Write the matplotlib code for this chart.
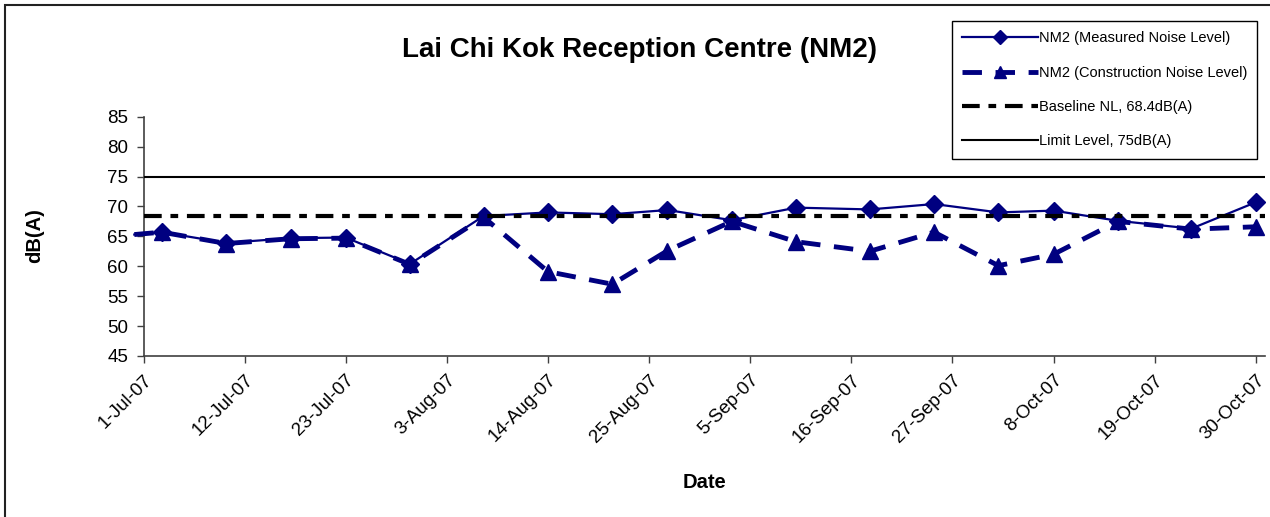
import matplotlib
matplotlib.use("Agg")
import matplotlib.pyplot as plt
import matplotlib.patches as patches
import pandas as pd

plt.rcParams['font.family'] = ['Liberation Sans', 'DejaVu Sans']

# Monitoring dates (first point lies just before the axis start)
dates = ['2007-06-30', '2007-07-03', '2007-07-10', '2007-07-17', '2007-07-23',
         '2007-07-30', '2007-08-07', '2007-08-14', '2007-08-21', '2007-08-27',
         '2007-09-03', '2007-09-10', '2007-09-18', '2007-09-25', '2007-10-02',
         '2007-10-08', '2007-10-15', '2007-10-23', '2007-10-30']

measured = [65.3, 65.7, 63.9, 64.7, 64.8, 60.4, 68.4, 69.0, 68.7, 69.4,
            67.7, 69.8, 69.5, 70.4, 69.0, 69.3, 67.6, 66.3, 70.7]
construction = [65.3, 65.7, 63.8, 64.6, 64.7, 60.3, 68.2, 59.1, 57.0, 62.6,
                67.5, 64.1, 62.5, 65.7, 60.1, 62.0, 67.5, 66.2, 66.6]

baseline = 68.4
limit = 75

x_start = '2007-07-01'
x_end = '2007-10-31'
tick_dates = pd.date_range(x_start, periods=12, freq='11D')
tick_labels = [f"{d.day}-{d.strftime('%b-%y')}" for d in tick_dates]
y_ticks = [45, 50, 55, 60, 65, 70, 75, 80, 85]

navy = '#000080'
x = pd.to_datetime(dates)
x0, x1 = pd.Timestamp(x_start), pd.Timestamp(x_end)

fig = plt.figure(figsize=(12.7, 5.17), dpi=100)
ax = fig.add_axes([143.5 / 1270, 1 - 356 / 517, (1265 - 143.5) / 1270, (356 - 116.7) / 517])

# series
ax.plot(x, measured, color=navy, lw=1.6, marker='D', ms=9, mfc=navy, mec=navy,
        markevery=slice(1, None), clip_on=False, zorder=3,
        label='NM2 (Measured Noise Level)')
ax.plot(x, construction, color=navy, lw=3.5, dashes=(4, 2.8), marker='^', ms=11,
        mfc=navy, mec=navy, markevery=slice(1, None), clip_on=False, zorder=4,
        label='NM2 (Construction Noise Level)')
ax.plot([x0, x1], [baseline, baseline], color='black', lw=3,
        dashes=(4.25, 2.1, 1.85, 2.1), zorder=5, label='Baseline NL, 68.4dB(A)')
ax.plot([x0, x1], [limit, limit], color='black', lw=1.5, zorder=5,
        label='Limit Level, 75dB(A)')

ax.set_xlim(x0, x1)
ax.set_ylim(45, 85)
ax.set_yticks(y_ticks)
ax.set_xticks(tick_dates)
ax.set_xticklabels(tick_labels, rotation=45, ha='right', va='top',
                   rotation_mode='anchor', fontsize=13.5)
ax.tick_params(axis='y', labelsize=13.5, length=5, width=1, color='#404040', pad=6)
ax.tick_params(axis='x', length=5, width=1, color='#404040', pad=6)

for s in ['top', 'right']:
    ax.spines[s].set_visible(False)
for s in ['left', 'bottom']:
    ax.spines[s].set_color('#404040')
    ax.spines[s].set_linewidth(1.2)

fig.text(640 / 1270, 1 - 50 / 517, 'Lai Chi Kok Reception Centre (NM2)',
         fontsize=20, fontweight='bold', ha='center', va='center')
fig.text(35 / 1270, 1 - 236 / 517, 'dB(A)', fontsize=14.5, fontweight='bold',
         rotation=90, ha='center', va='center')
fig.text(704 / 1270, 1 - 482 / 517, 'Date', fontsize=14.5, fontweight='bold',
         ha='center', va='center')

leg = ax.legend(loc='upper left', bbox_to_anchor=(952 / 1270, 1 - 21 / 517),
                bbox_transform=fig.transFigure, borderaxespad=0, fontsize=10.5,
                handlelength=5.2, handletextpad=0.05, labelspacing=1.4, borderpad=0.7,
                markerscale=0.75, numpoints=1, fancybox=False, framealpha=1,
                edgecolor='black')
leg.get_frame().set_linewidth(1)

# outer chart border
fig.patches.append(patches.Rectangle((5 / 1270, -0.05), 1.1, 1 - 5 / 517 + 0.05,
                                     transform=fig.transFigure, fill=False,
                                     edgecolor='#222222', lw=1.5))

fig.savefig('out.png', dpi=100)
